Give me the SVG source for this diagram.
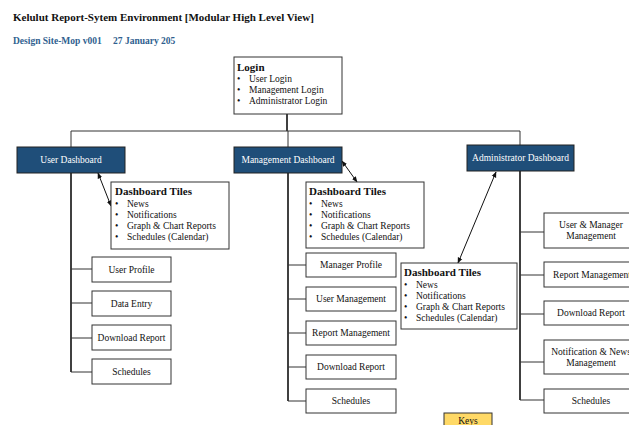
<svg xmlns="http://www.w3.org/2000/svg" width="629" height="425" viewBox="0 0 629 425">
  <style>
    text { font-family: "Liberation Serif", "Times New Roman", serif; fill: #111; }
    .title { font-size: 11px; font-weight: bold; }
    .sub { font-size: 9.5px; font-weight: bold; fill: #2F5F8F; }
    .box { fill: #fff; stroke: #333; stroke-width: 1; }
    .dash { fill: #1F4E79; stroke: #222; stroke-width: 1; }
    .dlabel { font-size: 9.5px; fill: #fff; text-anchor: middle; }
    .label { font-size: 9.5px; text-anchor: middle; }
    .head { font-size: 11px; font-weight: bold; }
    .item { font-size: 9.5px; }
    .trunk { fill: none; stroke: #000; stroke-width: 1.5; }
    .branch { fill: none; stroke: #333; stroke-width: 1; }
    .link { fill: none; stroke: #111; stroke-width: 1; marker-start: url(#ah); marker-end: url(#ah); }
    .keys { fill: #FFD966; stroke: #333; stroke-width: 1; }
  </style>
  <defs>
    <marker id="ah" viewBox="0 0 10 10" refX="9" refY="5" markerWidth="6" markerHeight="6" orient="auto-start-reverse" markerUnits="userSpaceOnUse">
      <path d="M0,1 L10,5 L0,9 z" fill="#111"/>
    </marker>
  </defs>

  <rect width="629" height="425" fill="#fff"/>

  <text class="title" x="13" y="21">Kelulut Report-Sytem Environment [Modular High Level View]</text>
  <text class="sub" x="13" y="44">Design Site-Mop v001<tspan x="113">27 January 205</tspan></text>

  <!-- connectors -->
  <g id="connectors">
    <path class="trunk" d="M287,114 V131"/>
    <path class="branch" d="M71,147 V131 H520 V145"/>
    <path class="branch" d="M288,131 V147"/>
    <!-- user trunk -->
    <path class="trunk" d="M71,173 V372"/>
    <path class="branch" d="M71,269 H92 M71,303 H92 M71,338 H92 M71,372 H92"/>
    <!-- management trunk -->
    <path class="trunk" d="M288,173 V401"/>
    <path class="branch" d="M288,265 H306 M288,299 H306 M288,333 H306 M288,367 H306 M288,401 H306"/>
    <!-- administrator trunk -->
    <path class="trunk" d="M520,171 V400"/>
    <path class="branch" d="M520,232 H544 M520,275 H544 M520,314 H544 M520,362 H544 M520,400 H544"/>
    <!-- dashboard to tiles -->
    <path class="link" d="M98,173 L111,206"/>
    <path class="link" d="M342,161 L357,182"/>
    <path class="link" d="M496,172 L458,263"/>
  </g>

  <g id="login">
    <rect class="box" x="234" y="57" width="108" height="57"/>
    <text class="head" x="237" y="71">Login</text>
    <text class="item" x="237" y="82">•<tspan x="249">User Login</tspan></text>
    <text class="item" x="237" y="93">•<tspan x="249">Management Login</tspan></text>
    <text class="item" x="237" y="104">•<tspan x="249">Administrator Login</tspan></text>
  </g>

  <!-- user side -->
  <g id="user-dashboard">
    <rect class="dash" x="17" y="147" width="108" height="26"/>
    <text class="dlabel" x="71" y="163">User Dashboard</text>
  </g>
  <g id="user-tiles">
    <rect class="box" x="111" y="182" width="118" height="67"/>
    <text class="head" x="115" y="195">Dashboard Tiles</text>
    <text class="item" x="115" y="207">•<tspan x="127">News</tspan></text>
    <text class="item" x="115" y="218">•<tspan x="127">Notifications</tspan></text>
    <text class="item" x="115" y="229">•<tspan x="127">Graph &amp; Chart Reports</tspan></text>
    <text class="item" x="115" y="240">•<tspan x="127">Schedules (Calendar)</tspan></text>
  </g>
  <g id="user-profile">
    <rect class="box" x="92" y="257" width="79" height="25"/>
    <text class="label" x="131.5" y="273">User Profile</text>
  </g>
  <g id="user-data-entry">
    <rect class="box" x="92" y="291" width="79" height="25"/>
    <text class="label" x="131.5" y="307">Data Entry</text>
  </g>
  <g id="user-download-report">
    <rect class="box" x="92" y="325" width="79" height="25"/>
    <text class="label" x="131.5" y="341">Download Report</text>
  </g>
  <g id="user-schedules">
    <rect class="box" x="92" y="359" width="79" height="25"/>
    <text class="label" x="131.5" y="375">Schedules</text>
  </g>

  <!-- management side -->
  <g id="management-dashboard">
    <rect class="dash" x="234" y="147" width="108" height="26"/>
    <text class="dlabel" x="288" y="163">Management Dashboard</text>
  </g>
  <g id="management-tiles">
    <rect class="box" x="306" y="182" width="118" height="66"/>
    <text class="head" x="309" y="195">Dashboard Tiles</text>
    <text class="item" x="309" y="207">•<tspan x="321">News</tspan></text>
    <text class="item" x="309" y="218">•<tspan x="321">Notifications</tspan></text>
    <text class="item" x="309" y="229">•<tspan x="321">Graph &amp; Chart Reports</tspan></text>
    <text class="item" x="309" y="240">•<tspan x="321">Schedules (Calendar)</tspan></text>
  </g>
  <g id="manager-profile">
    <rect class="box" x="306" y="253" width="90" height="24"/>
    <text class="label" x="351" y="268">Manager Profile</text>
  </g>
  <g id="user-management">
    <rect class="box" x="306" y="287" width="90" height="24"/>
    <text class="label" x="351" y="302">User Management</text>
  </g>
  <g id="report-management">
    <rect class="box" x="306" y="321" width="90" height="24"/>
    <text class="label" x="351" y="336">Report Management</text>
  </g>
  <g id="management-download-report">
    <rect class="box" x="306" y="355" width="90" height="24"/>
    <text class="label" x="351" y="370">Download Report</text>
  </g>
  <g id="management-schedules">
    <rect class="box" x="306" y="389" width="90" height="24"/>
    <text class="label" x="351" y="404">Schedules</text>
  </g>

  <!-- administrator side -->
  <g id="administrator-dashboard">
    <rect class="dash" x="467" y="145" width="107" height="26"/>
    <text class="dlabel" x="520.5" y="161">Administrator Dashboard</text>
  </g>
  <g id="administrator-tiles">
    <rect class="box" x="401" y="263" width="116" height="66"/>
    <text class="head" x="404" y="276">Dashboard Tiles</text>
    <text class="item" x="404" y="288">•<tspan x="416">News</tspan></text>
    <text class="item" x="404" y="299">•<tspan x="416">Notifications</tspan></text>
    <text class="item" x="404" y="310">•<tspan x="416">Graph &amp; Chart Reports</tspan></text>
    <text class="item" x="404" y="321">•<tspan x="416">Schedules (Calendar)</tspan></text>
  </g>
  <g id="user-manager-management">
    <rect class="box" x="544" y="213" width="96" height="35"/>
    <text class="label" x="591" y="228">User &amp; Manager</text>
    <text class="label" x="591" y="239">Management</text>
  </g>
  <g id="admin-report-management">
    <rect class="box" x="544" y="262" width="96" height="25"/>
    <text class="label" x="592" y="278">Report Management</text>
  </g>
  <g id="admin-download-report">
    <rect class="box" x="544" y="301" width="96" height="24"/>
    <text class="label" x="591" y="316">Download Report</text>
  </g>
  <g id="notification-news-management">
    <rect class="box" x="544" y="340" width="96" height="34"/>
    <text class="label" x="591" y="355">Notification &amp; News</text>
    <text class="label" x="591" y="366">Management</text>
  </g>
  <g id="admin-schedules">
    <rect class="box" x="544" y="389" width="96" height="24"/>
    <text class="label" x="591" y="404">Schedules</text>
  </g>

  <g id="keys">
    <rect class="keys" x="444" y="413" width="48" height="20"/>
    <text class="label" x="468" y="424">Keys</text>
  </g>
</svg>
